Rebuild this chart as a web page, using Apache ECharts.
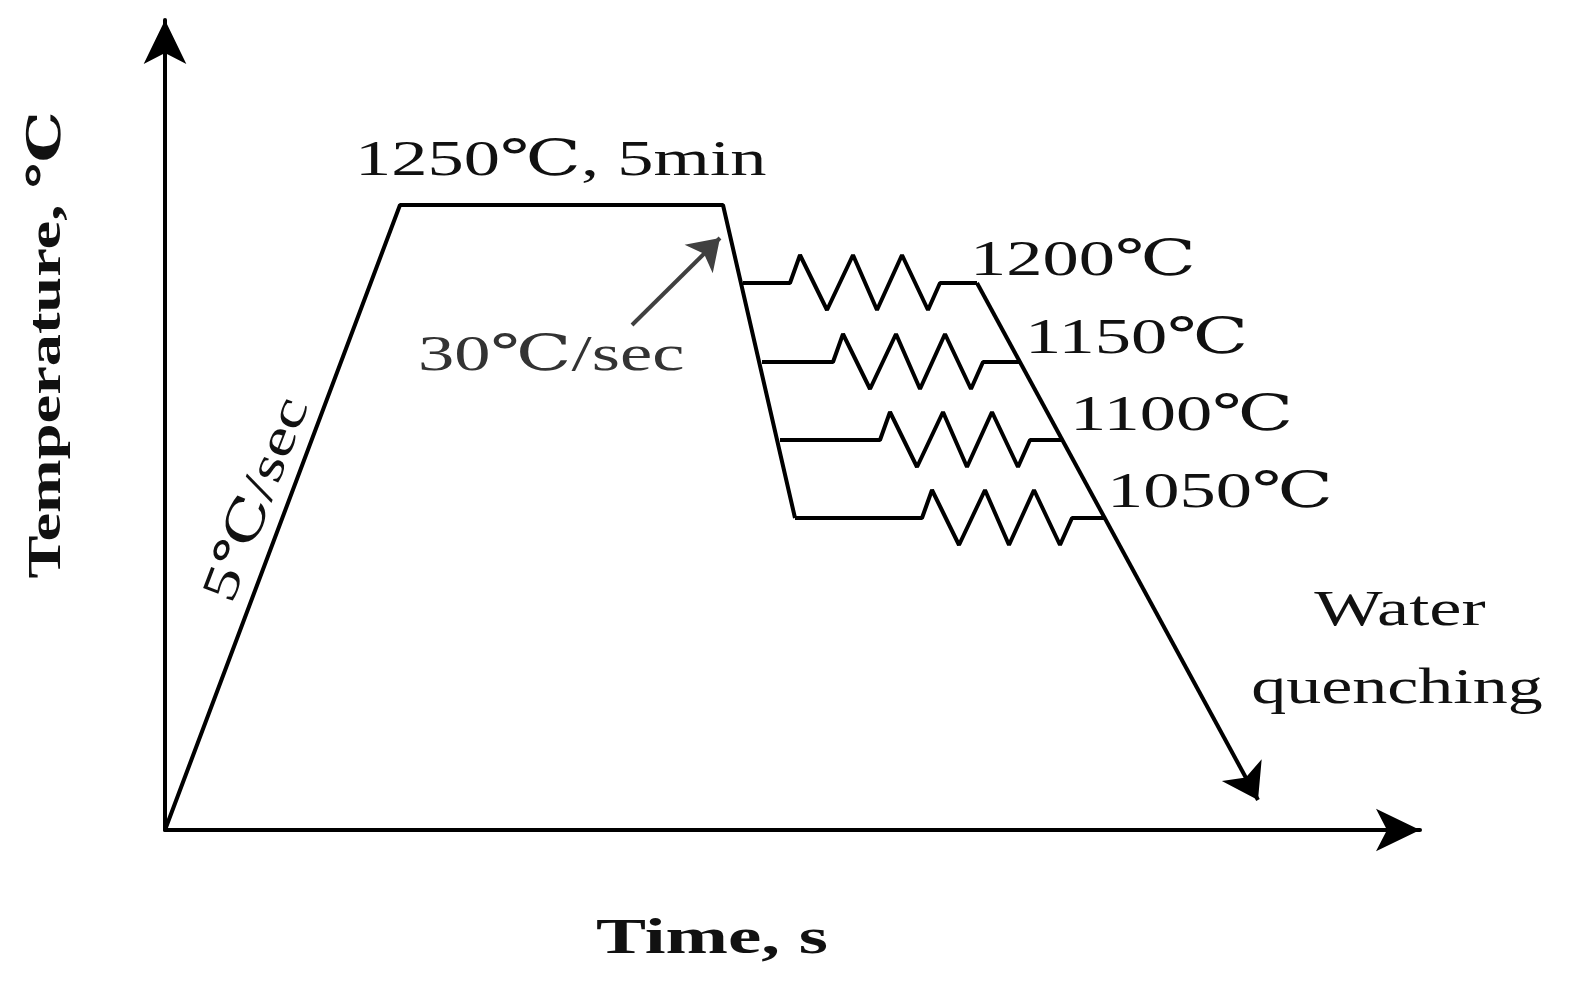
<!DOCTYPE html>
<html><head><meta charset="utf-8">
<script src="https://cdn.jsdelivr.net/npm/echarts@6/dist/echarts.min.js"></script>
<style>html,body{margin:0;padding:0;background:#fff}#c{width:1572px;height:993px}</style>
</head><body><div id="c"></div>
<script>
// schematic units: time (x), temperature (y)
const mainX = [0, 235, 558, 630];
const mainY = [0, 625, 625, 312];
const b1200X = [578,625,635,662,688,712,737,763,775,812];
const b1200Y = [547,547,575,520,575,520,575,520,547,547];
const b1150X = [597,668,678,705,731,755,780,806,818,855];
const b1150Y = [468,468,496,441,496,441,496,441,468,468];
const b1100X = [615,715,725,752,778,802,827,853,865,898];
const b1100Y = [390,390,418,363,418,363,418,363,390,390];
const b1050X = [630,757,767,794,820,844,869,895,907,940];
const b1050Y = [312,312,340,285,340,285,340,285,312,312];
const quench = [[812,547],[1093,30]];
const rateArrow = [[467,505],[555,592]];
const levelLabels = ['1200℃','1150℃','1100℃','1050℃'];

const zip = (a,b)=>a.map((v,i)=>[v,b[i]]);
const F = '"Liberation Serif","DejaVu Serif",serif';
const lineSeries = (x,y)=>({type:'line',data:zip(x,y),symbol:'none',lineStyle:{color:'#000',width:4},silent:true,animation:false});
const chart = echarts.init(document.getElementById('c'));
const txt = (t,x,y,o={})=>({type:'text',x,y,rotation:o.rot||0,scaleX:o.sx||1.45,style:{text:t,font:(o.w||'normal')+' '+(o.s||50)+'px '+F,fill:o.c||'#111',textAlign:o.a||'left',textVerticalAlign:'middle'}});
chart.setOption({
  animation:false,
  grid:{left:165,top:20,width:1255,height:810},
  xAxis:{type:'value',min:0,max:1255,axisLine:{lineStyle:{color:'#000',width:4},symbol:['none','arrow'],symbolSize:[32,44]},axisTick:{show:false},axisLabel:{show:false},splitLine:{show:false}},
  yAxis:{type:'value',min:0,max:810,axisLine:{show:true,lineStyle:{color:'#000',width:4},symbol:['none','arrow'],symbolSize:[32,44]},axisTick:{show:false},axisLabel:{show:false},splitLine:{show:false}},
  series:[
    lineSeries(mainX,mainY),
    lineSeries(b1200X,b1200Y),
    lineSeries(b1150X,b1150Y),
    lineSeries(b1100X,b1100Y),
    lineSeries(b1050X,b1050Y),
    {type:'lines',coordinateSystem:'cartesian2d',symbol:['none','arrow'],symbolSize:34,lineStyle:{color:'#000',width:4,opacity:1},data:[{coords:quench}],silent:true},
    {type:'lines',coordinateSystem:'cartesian2d',symbol:['none','arrow'],symbolSize:30,lineStyle:{color:'#404040',width:4,opacity:1},data:[{coords:rateArrow}],silent:true}
  ],
  graphic:[
    txt('1250℃, 5min',355,162),
    txt(levelLabels[0],970,262),
    txt(levelLabels[1],1025,340),
    txt(levelLabels[2],1070,417),
    txt(levelLabels[3],1107,494),
    txt('30℃/sec',418,357,{c:'#333'}),
    txt('5℃/sec',258,500,{a:'center',rot:69*Math.PI/180,sx:1.35}),
    txt('Water',1400,612,{a:'center'}),
    txt('quenching',1397,690,{a:'center',sx:1.4}),
    txt('Temperature, ℃',48,345,{a:'center',w:'bold',s:46,rot:Math.PI/2,sx:1.4}),
    txt('Time, s',712,940,{a:'center',w:'bold',s:50,sx:1.5})
  ]
});
</script></body></html>
